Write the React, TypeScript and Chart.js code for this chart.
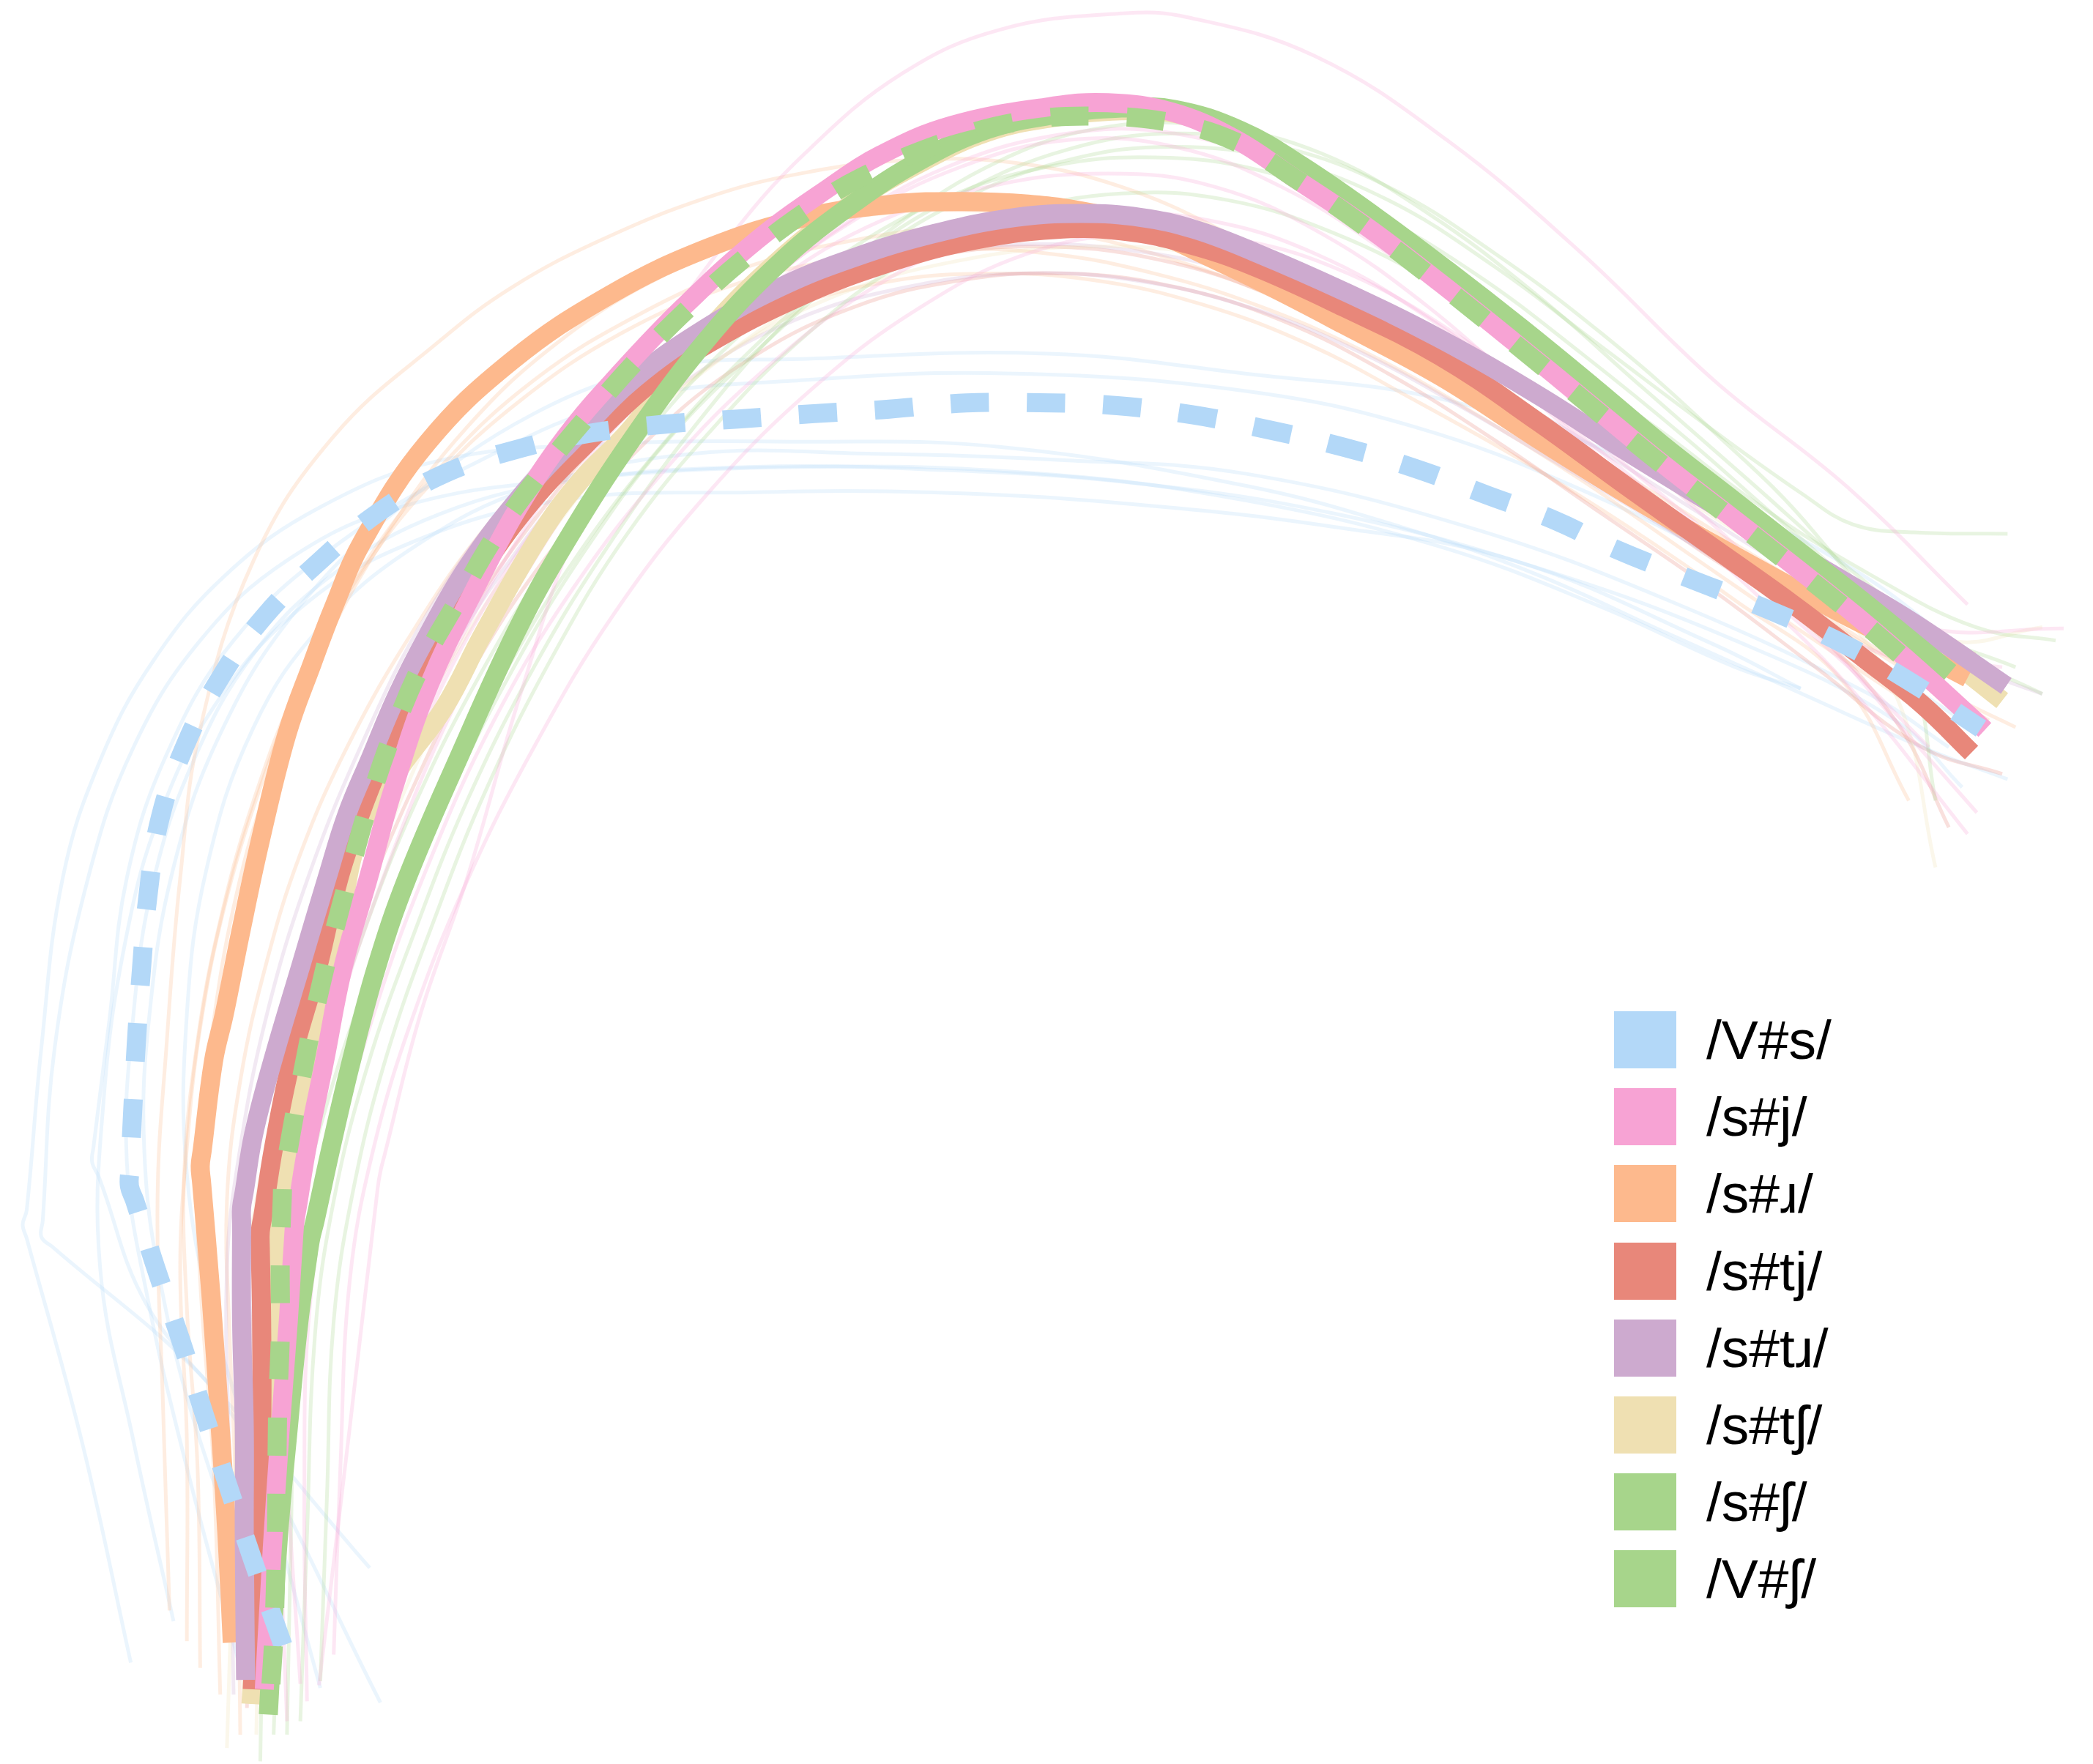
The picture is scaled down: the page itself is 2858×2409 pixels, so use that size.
import React, { useEffect, useRef } from "react";
import { Chart, registerables } from "chart.js";

Chart.register(...registerables);

const W = 2858;
const H = 2409;
const X_MAX = 1568;
const Y_MAX = 1322;

// ---- categories / legend ----
const categories = ["/V#s/", "/s#j/", "/s#ɹ/", "/s#tj/", "/s#tɹ/", "/s#tʃ/", "/s#ʃ/", "/V#ʃ/"];
const colors = ["#B3D8F8", "#F7A3D4", "#FDB98D", "#E8877A", "#CDAACF", "#EFE0B2", "#A7D58B", "#A7D58B"];
const dashedSeries = [true, false, false, false, false, false, false, true];
// bottom -> top drawing order of the mean contours (category indices)
const drawOrder = [5, 2, 3, 4, 6, 1, 0, 7];

// ---- mean contours (x, y) ----
const meanVs = [[212,1233],[189,1168],[171,1114],[153,1060],[136,1006],[117,951],[101,900],[97,889],[97.3,877],[99,841],[102,784],[106,726],[111,670],[120,613],[139,558],[165,508],[198,462],[240,420],[285,383],[335,354],[390,336],[440,325],[497,318],[553,314],[610,310],[661,307],[724,302],[788,302],[837,304],[894,311],[950,322],[1006,335],[1060,351],[1114,371],[1165,390],[1209,411],[1264,433],[1325,457],[1378,481],[1428,509],[1484,546]];
const meanSj = [[198,1266],[204,1160],[210,1070],[216,990],[220,927],[221,915],[223,903],[230,860],[243,796],[257,725],[276,658],[295,590],[322,512],[357,439],[388,381],[424,327],[466,278],[512,230],[567,180],[622,140],[660,116],[713,94],[786,80],[830,77],[878,84],[925,104],[969,133],[1024,170],[1079,212],[1134,256],[1189,301],[1240,343],[1290,382],[1340,421],[1390,461],[1440,504],[1487,547]];
const meanSr = [[174,1231],[170,1150],[165,1070],[158,970],[151,886],[150,874],[151.5,862],[160,795],[168,760],[180,700],[195,630],[215,550],[234,497],[250,455],[272,405],[320,332],[384,270],[457,221],[530,186],[603,163],[669,153],[720,151],[770,153],[820,160],[860,172],[900,190],[950,214],[1006,243],[1079,282],[1152,329],[1218,370],[1270,400],[1315,425],[1380,460],[1430,485],[1474,508]];
const meanStj = [[189,1266],[193,1150],[196,1070],[196,990],[195,935],[195,923],[197,911],[205,860],[218,796],[238,725],[254,658],[270,610],[287,567],[308,520],[330,478],[360,428],[400,374],[440,332],[484,290],[530,258],[600,222],[669,196],[730,180],[790,172],[840,173],[890,183],[940,200],[1006,230],[1079,267],[1152,316],[1218,364],[1280,408],[1342,452],[1397,494],[1440,528],[1477,564]];
const meanStr = [[184,1259],[183,1150],[183,1070],[181,990],[181,917],[181,905],[183,893],[190,850],[204,796],[225,725],[245,658],[260,610],[278,567],[298,520],[321,475],[350,425],[390,372],[432,327],[475,284],[530,245],[585,215],[640,193],[700,175],[760,163],[810,160],[855,163],[895,172],[940,189],[1006,218],[1079,254],[1152,296],[1218,338],[1300,388],[1379,434],[1434,467],[1503,514]];
const meanStsh = [[188,1277],[196,1150],[202,1070],[205,990],[207,937],[207,925],[209,913],[218,860],[230,796],[250,720],[270,622],[300,575],[333,530],[362,475],[404,402],[435,360],[472,322],[525,254],[580,198],[636,154],[690,122],[740,99],[790,88],[840,83],[880,85],[930,100],[975,126],[1030,163],[1085,205],[1140,250],[1195,298],[1240,340],[1290,378],[1345,414],[1400,451],[1450,486],[1500,525]];
const meanSsh = [[201,1285],[208,1160],[216,1070],[224,990],[231,939],[233,927],[236,915],[248,860],[263,796],[282,725],[305,658],[344,567],[386,475],[421,411],[475,327],[530,254],[585,196],[640,152],[690,120],[740,97],[790,86],[840,81],[880,82],[930,98],[975,124],[1030,162],[1085,203],[1140,246],[1195,291],[1245,333],[1295,372],[1345,411],[1400,454],[1461,504]];
const meanVsh = [[203,1262],[205,1228],[207,1157],[208,1057],[210,1000],[210,942],[211.5,897],[212,885],[214,873],[223,823],[240,740],[261,658],[275,607],[293,553],[315,500],[343,450],[371,402],[404,356],[441,311],[479,268],[519,228],[562,190],[606,157],[645,133],[709,106],[764,91],[821,87],[878,92],[925,106],[969,133],[1024,171],[1079,213],[1134,257],[1189,302],[1240,344],[1290,383],[1340,422],[1390,462],[1441,506]];

const means = [meanVs, meanSj, meanSr, meanStj, meanStr, meanStsh, meanSsh, meanVsh];

// ---- individual token contours (faint) ----
const tokensVs = [
  [[98,1246],[62,1083],[20,928],[17,918],[20,907],[31,785],[47,658],[75,570],[115,495],[170,430],[240,380],[330,345],[450,333],[600,331],[750,335],[933,364],[1050,395],[1150,430],[1250,475],[1350,520],[1440,560],[1504,584]],
  [[277,1175],[150,1030],[40,935],[31,927],[32,915],[41,785],[66,658],[100,560],[150,480],[215,420],[300,380],[420,360],[600,350],[780,355],[933,375],[1080,410],[1200,455],[1300,500],[1349,516]],
  [[285,1276],[180,1070],[110,978],[74,882],[69,871],[70,860],[82,764],[95,658],[125,565],[175,480],[250,410],[350,350],[470,300],[600,285],[760,280],[933,293],[1060,320],[1180,365],[1290,420],[1380,480],[1470,540]],
  [[205,1230],[150,1080],[120,960],[108,860],[112,760],[130,650],[165,550],[220,460],[300,380],[400,310],[500,275],[600,269],[785,265],[933,280],[1084,300],[1234,350],[1384,424],[1480,495]],
  [[240,1265],[200,1120],[160,990],[140,880],[140,760],[155,650],[190,545],[240,470],[310,410],[400,365],[520,340],[650,340],[800,345],[933,355],[1100,395],[1250,450],[1400,520],[1460,560]],
  [[130,1215],[100,1080],[75,950],[78,820],[95,700],[120,610],[160,530],[220,460],[300,410],[420,375],[560,369],[700,369],[850,378],[1000,395],[1134,420],[1284,483],[1349,516]],
  [[180,1250],[140,1100],[110,970],[95,870],[100,760],[115,660],[145,570],[190,490],[250,430],[330,385],[430,360],[560,350],[700,352],[850,362],[1000,385],[1150,425],[1300,480],[1420,540],[1470,590]],
];
const tokensSj = [
  [[225,1262],[215,1100],[212,960],[228,830],[258,700],[300,580],[350,470],[410,370],[480,270],[545,180],[603,115],[676,55],[750,22],[841,10],[890,13],[985,42],[1084,105],[1184,189],[1284,285],[1384,365],[1474,453]],
  [[239,1263],[262,1070],[283,890],[285,878],[288,866],[315,760],[350,658],[390,520],[435,390],[490,300],[560,225],[640,165],[720,125],[800,105],[880,110],[960,140],[1040,190],[1120,250],[1200,320],[1280,390],[1350,460],[1420,540],[1481,609]],
  [[205,1280],[200,1100],[198,950],[215,850],[240,760],[270,660],[310,560],[360,460],[420,370],[490,290],[570,220],[650,170],[740,140],[830,130],[910,140],[990,175],[1070,230],[1150,300],[1230,370],[1310,440],[1390,520],[1474,625]],
  [[215,1290],[210,1150],[208,990],[222,880],[250,770],[290,650],[340,530],[400,420],[470,320],[550,235],[630,170],[710,125],[800,100],[880,100],[960,125],[1040,170],[1120,230],[1200,300],[1280,370],[1360,430],[1440,470],[1546,471]],
  [[230,1275],[228,1120],[232,980],[250,870],[280,760],[320,650],[370,540],[430,440],[500,350],[575,275],[655,215],[740,175],[825,160],[905,165],[985,190],[1065,235],[1145,295],[1225,360],[1305,430],[1385,500],[1445,560]],
  [[250,1240],[255,1100],[262,960],[280,860],[310,760],[350,660],[400,560],[460,460],[530,370],[610,290],[690,230],[770,190],[850,175],[930,180],[1010,205],[1090,250],[1170,310],[1250,375],[1330,440],[1410,490],[1500,500]],
];
const tokensSr = [
  [[127,1207],[122,1050],[118,900],[125,780],[135,658],[150,546],[190,420],[250,327],[330,255],[384,215],[450,180],[530,148],[600,130],[680,120],[760,122],[840,140],[920,175],[1000,220],[1080,270],[1160,320],[1240,370],[1320,420],[1400,465],[1480,490]],
  [[165,1270],[160,1100],[150,960],[148,870],[158,780],[175,680],[200,590],[240,490],[290,400],[350,320],[420,255],[500,205],[580,175],[660,160],[740,158],[820,165],[900,190],[980,225],[1060,268],[1140,315],[1220,365],[1300,420],[1380,470],[1460,520],[1510,545]],
  [[140,1230],[140,1080],[135,950],[140,860],[150,770],[168,680],[195,590],[230,500],[275,420],[330,350],[400,285],[480,235],[560,200],[640,180],[720,170],[800,175],[880,195],[960,225],[1040,265],[1120,310],[1200,360],[1280,410],[1360,460],[1440,510],[1490,540]],
  [[180,1300],[178,1150],[172,1000],[170,900],[180,810],[200,720],[225,640],[260,560],[305,480],[360,400],[425,330],[500,275],[580,235],[660,212],[740,205],[820,210],[900,228],[980,258],[1060,300],[1140,345],[1220,395],[1300,450],[1380,510],[1430,600]],
  [[150,1250],[148,1100],[140,980],[138,880],[148,780],[165,690],[190,600],[225,510],[270,430],[325,360],[390,300],[465,250],[545,215],[625,195],[705,187],[785,190],[865,205],[945,230],[1025,265],[1105,310],[1185,360],[1265,415],[1345,470],[1420,520],[1480,560]],
];
const tokensStj = [
  [[185,1280],[188,1120],[190,980],[200,880],[220,780],[250,680],[290,580],[340,480],[400,390],[470,310],[550,250],[630,210],[710,190],[790,185],[870,195],[950,220],[1030,258],[1110,305],[1190,355],[1270,410],[1350,465],[1420,540],[1460,620]],
  [[200,1270],[202,1120],[205,980],[215,890],[235,800],[265,700],[305,600],[355,500],[415,410],[485,330],[560,270],[640,230],[720,210],[800,205],[880,215],[960,240],[1040,280],[1120,330],[1200,385],[1280,440],[1360,500],[1440,560],[1500,580]],
];
const tokensStr = [
  [[175,1270],[172,1100],[170,950],[180,860],[200,760],[230,660],[270,560],[320,460],[380,375],[450,300],[530,245],[610,210],[690,190],[770,183],[850,188],[930,205],[1010,235],[1090,275],[1170,320],[1250,370],[1330,420],[1410,465],[1490,505],[1530,520]],
  [[195,1250],[192,1100],[190,960],[198,880],[215,790],[240,700],[275,610],[320,520],[375,430],[440,350],[515,285],[595,240],[680,215],[765,205],[850,210],[935,230],[1015,262],[1095,305],[1175,352],[1255,400],[1335,450],[1415,500],[1480,560]],
];
const tokensStsh = [
  [[192,1300],[195,1150],[198,1000],[208,900],[230,800],[262,700],[300,600],[348,500],[405,410],[470,330],[545,265],[625,215],[710,185],[795,175],[880,180],[960,200],[1040,235],[1120,280],[1200,330],[1280,385],[1360,440],[1420,520],[1450,650]],
  [[170,1310],[175,1150],[180,1000],[192,900],[214,800],[245,700],[285,600],[335,500],[395,410],[465,330],[545,265],[630,220],[720,195],[810,185],[900,190],[980,210],[1060,245],[1140,290],[1220,340],[1300,390],[1380,440],[1460,480],[1530,470]],
];
const tokensSsh = [
  [[215,1300],[218,1150],[222,1000],[235,900],[260,800],[295,700],[335,600],[385,500],[440,410],[500,330],[570,260],[640,200],[720,150],[800,120],[880,110],[960,120],[1040,150],[1120,200],[1200,260],[1280,320],[1350,370],[1388,393],[1434,399],[1504,400]],
  [[225,1290],[230,1150],[236,1000],[250,900],[275,800],[310,700],[350,600],[400,500],[455,410],[520,320],[590,240],[670,170],[750,120],[830,95],[910,95],[990,115],[1070,160],[1150,220],[1230,290],[1310,360],[1390,430],[1470,490],[1530,520]],
  [[195,1320],[198,1150],[202,1000],[215,900],[240,800],[272,700],[312,600],[360,505],[415,415],[480,330],[550,255],[625,195],[705,150],[785,125],[865,118],[945,128],[1025,158],[1105,205],[1185,265],[1265,330],[1345,400],[1425,465],[1510,500]],
];
const tokensVsh = [
  [[205,1300],[210,1150],[214,1000],[225,910],[250,810],[285,710],[325,610],[375,510],[430,420],[495,335],[565,260],[640,195],[720,145],[800,112],[880,100],[960,110],[1040,140],[1120,190],[1200,250],[1280,320],[1360,400],[1430,500],[1450,600]],
  [[240,1260],[245,1120],[250,990],[265,890],[290,790],[325,690],[365,590],[415,490],[470,400],[535,320],[605,250],[680,195],[760,160],[840,145],[920,150],[1000,175],[1080,215],[1160,265],[1240,320],[1320,380],[1400,430],[1480,470],[1540,480]],
];

const tokens = [tokensVs, tokensSj, tokensSr, tokensStj, tokensStr, tokensStsh, tokensSsh, tokensVsh];

function rgba(hex: string, a: number) {
  const n = parseInt(hex.slice(1), 16);
  return `rgba(${(n >> 16) & 255}, ${(n >> 8) & 255}, ${n & 255}, ${a})`;
}

const toXY = (pts: number[][]) => pts.map(([x, y]) => ({ x, y }));

const LEGEND_LEFT = 2204;
const LEGEND_TOP = 1381;
const LEGEND_STEP = 105.2;

export default function App() {
  const ref = useRef<HTMLCanvasElement | null>(null);

  useEffect(() => {
    const canvas = ref.current;
    if (!canvas) return;
    const datasets: any[] = [];
    // faint token lines first (bottom)
    [0, 2, 3, 4, 5, 6, 7, 1].forEach((ci) => {
      tokens[ci].forEach((line) => {
        datasets.push({
          label: categories[ci] + " token",
          data: toXY(line),
          showLine: true,
          borderColor: rgba(colors[ci], 0.26),
          borderWidth: 5,
          pointRadius: 0,
          tension: 0.4,
          fill: false,
        });
      });
    });
    // mean contours
    drawOrder.forEach((ci) => {
      datasets.push({
        label: categories[ci],
        data: toXY(means[ci]),
        showLine: true,
        borderColor: colors[ci],
        borderWidth: 26,
        borderDash: dashedSeries[ci] ? [52, 52] : [],
        borderCapStyle: "butt",
        borderJoinStyle: "round",
        pointRadius: 0,
        tension: 0.4,
        fill: false,
      });
    });
    const n = datasets.length;
    datasets.forEach((d, i) => {
      d.order = n - i;
    });

    const chart = new Chart(canvas, {
      type: "scatter",
      data: { datasets },
      options: {
        responsive: false,
        animation: false,
        devicePixelRatio: 1,
        events: [],
        layout: { padding: 0 },
        plugins: { legend: { display: false }, tooltip: { enabled: false } },
        scales: {
          x: { type: "linear", min: 0, max: X_MAX, display: false },
          y: { type: "linear", min: 0, max: Y_MAX, reverse: true, display: false },
        },
      },
    });
    return () => chart.destroy();
  }, []);

  return (
    <div style={{ position: "absolute", left: 0, top: 0, width: W, height: H, background: "#ffffff", overflow: "hidden" }}>
      <canvas ref={ref} width={W} height={H} style={{ position: "absolute", left: 0, top: 0, width: W, height: H }} />
      {categories.map((c, i) => (
        <div
          key={c}
          style={{
            position: "absolute",
            left: LEGEND_LEFT,
            top: LEGEND_TOP + i * LEGEND_STEP,
            height: 78,
            display: "flex",
            alignItems: "center",
            whiteSpace: "nowrap",
          }}
        >
          <div style={{ width: 85, height: 78, background: colors[i] }} />
          <div
            style={{
              marginLeft: 41,
              fontFamily: '"Liberation Sans", Arial, Helvetica, sans-serif',
              fontSize: 75,
              lineHeight: "78px",
              color: "#000",
            }}
          >
            {c}
          </div>
        </div>
      ))}
    </div>
  );
}
